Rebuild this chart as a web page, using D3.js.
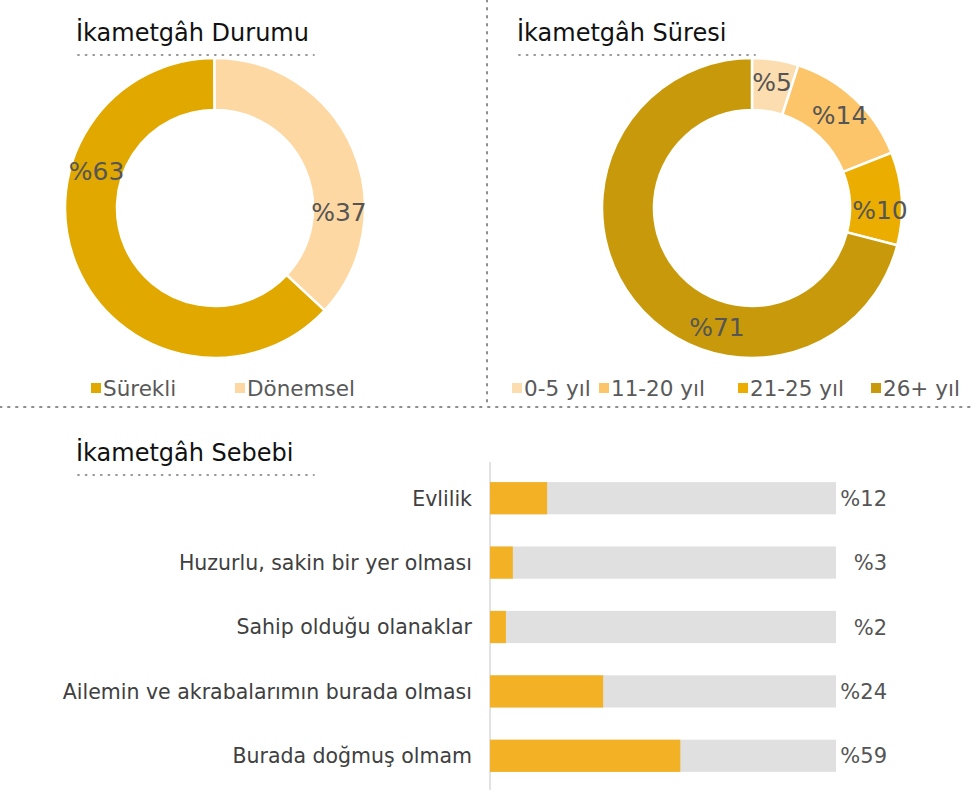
<!DOCTYPE html>
<html>
<head>
    <meta charset="utf-8">
    <title>İkametgâh</title>
    <style>
        body { margin: 0; background: #fff; }
        svg text { font-family: "Century Gothic", "DejaVu Sans", sans-serif; }
    </style>
</head>
<body>
    <svg id="chart" width="976" height="796"></svg>

    <script src="https://d3js.org/d3.v7.min.js"></script>
    <script>
        // İkametgâh Durumu
        const statusLabels = ['Sürekli', 'Dönemsel'];
        const statusValues = [63, 37];
        const statusColors = ['#E1A800', '#FDD8A3'];

        // İkametgâh Süresi
        const durationLabels = ['0-5 yıl', '11-20 yıl', '21-25 yıl', '26+ yıl'];
        const durationValues = [5, 14, 10, 71];
        const durationColors = ['#FCDDB0', '#FDC56A', '#EBAE00', '#C89A0B'];

        // İkametgâh Sebebi
        const reasonLabels = ['Evlilik', 'Huzurlu, sakin bir yer olması', 'Sahip olduğu olanaklar',
            'Ailemin ve akrabalarımın burada olması', 'Burada doğmuş olmam'];
        const reasonValues = [12, 3, 2, 24, 59];          // printed labels
        const reasonBars = [16.5, 6.6, 4.6, 32.7, 55];    // bar lengths as drawn in the picture

        const svg = d3.select('#chart');
        const textColor = '#404040';

        // dotted separators
        svg.append('line').attr('x1', 0).attr('x2', 976).attr('y1', 407).attr('y2', 407)
            .attr('stroke', '#8c8c8c').attr('stroke-width', 2).attr('stroke-dasharray', '1.5,6.5').attr('stroke-linecap', 'round');
        svg.append('line').attr('x1', 487).attr('x2', 487).attr('y1', 0).attr('y2', 407)
            .attr('stroke', '#8c8c8c').attr('stroke-width', 2).attr('stroke-dasharray', '1.5,6.5').attr('stroke-linecap', 'round');

        function title(x, y, txt) {
            svg.append('text').attr('x', x).attr('y', y).text(txt)
                .attr('font-size', 24).attr('fill', '#111');
            svg.append('line').attr('x1', x + 2).attr('x2', x + 238).attr('y1', y + 14).attr('y2', y + 14)
                .attr('stroke', '#999').attr('stroke-width', 1.8).attr('stroke-dasharray', '1,6.6').attr('stroke-linecap', 'round');
        }
        title(76, 41, 'İkametgâh Durumu');
        title(517, 41, 'İkametgâh Süresi');
        title(76, 461, 'İkametgâh Sebebi');

        // labelFrac: where along each slice the label sits (0 = slice start, 1 = end)
        function donut(cx, cy, values, colors, start, labelFrac) {
            const pie = d3.pie().sort(null)
                .startAngle(start).endAngle(start + 2 * Math.PI);
            const arc = d3.arc().innerRadius(98).outerRadius(150);
            const g = svg.append('g').attr('transform', `translate(${cx},${cy})`);
            const arcs = pie(values);
            g.selectAll('path').data(arcs).join('path')
                .attr('d', arc)
                .attr('fill', (d, i) => colors[i])
                .attr('stroke', '#fff').attr('stroke-width', 2.5);
            g.selectAll('text').data(arcs).join('text')
                .attr('transform', (d, i) => {
                    const a = d.startAngle + (d.endAngle - d.startAngle) * labelFrac[i];
                    const r = d.value < 20 ? 128 : 124;
                    return `translate(${r * Math.sin(a)},${-r * Math.cos(a)})`;
                })
                .attr('text-anchor', 'middle').attr('dy', '0.36em')
                .attr('font-size', 25).attr('fill', '#555')
                .text(d => '%' + d.data);
        }
        donut(215, 208, statusValues, statusColors, 133 * Math.PI / 180, [0.68, 0.69]);
        donut(752, 208, durationValues, durationColors, 0, [0.5, 0.5, 0.62, 0.36]);

        function legend(items, colors, xs, y) {
            const g = svg.append('g');
            items.forEach((t, i) => {
                g.append('rect').attr('x', xs[i]).attr('y', y - 5).attr('width', 10).attr('height', 10)
                    .attr('fill', colors[i]);
                g.append('text').attr('x', xs[i] + 12).attr('y', y).attr('dy', '0.36em')
                    .attr('font-size', 21.5).attr('fill', '#595959').text(t);
            });
        }
        legend(statusLabels, statusColors, [91, 235], 388);
        legend(durationLabels, durationColors, [512, 599, 738, 871], 388);

        // bar chart
        const x = d3.scaleLinear().domain([0, 100]).range([490, 836]);
        const y = d3.scaleBand().domain(reasonLabels).range([466, 788]).paddingInner(0.5).paddingOuter(0.25);

        svg.append('line').attr('x1', 490).attr('x2', 490).attr('y1', 462).attr('y2', 790)
            .attr('stroke', '#d9d9d9').attr('stroke-width', 1.5);

        svg.append('g').selectAll('rect').data(reasonLabels).join('rect')
            .attr('x', x(0)).attr('y', d => y(d))
            .attr('width', x(100) - x(0)).attr('height', y.bandwidth())
            .attr('fill', '#E0E0E0');

        svg.append('g').selectAll('rect').data(reasonBars).join('rect')
            .attr('x', x(0)).attr('y', (d, i) => y(reasonLabels[i]))
            .attr('width', d => x(d) - x(0)).attr('height', y.bandwidth())
            .attr('fill', '#F3B126');

        svg.append('g').selectAll('text').data(reasonLabels).join('text')
            .attr('x', 472).attr('y', d => y(d) + y.bandwidth() / 2).attr('dy', '0.36em')
            .attr('text-anchor', 'end').attr('font-size', 20.5).attr('fill', textColor)
            .text(d => d);

        svg.append('g').selectAll('text').data(reasonValues).join('text')
            .attr('x', 887).attr('y', (d, i) => y(reasonLabels[i]) + y.bandwidth() / 2).attr('dy', '0.36em')
            .attr('text-anchor', 'end').attr('font-size', 21).attr('fill', '#555')
            .text(d => '%' + d);
    </script>
</body>
</html>
